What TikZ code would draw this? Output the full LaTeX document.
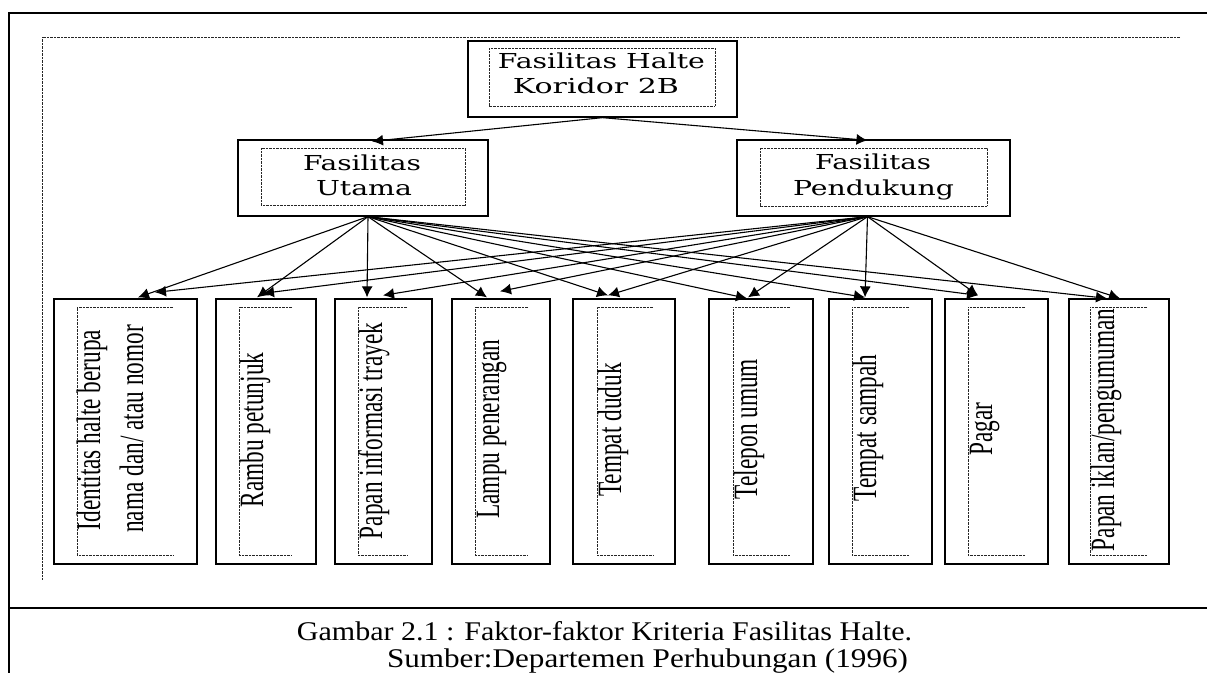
\documentclass[tikz,border=0pt]{standalone}
\usepackage{fontspec}
\setmainfont{Liberation Serif}
\newfontfamily\hdrfont{DejaVu Serif}
\usetikzlibrary{arrows.meta}
\newcommand{\hw}[2]{\resizebox{#1pt}{\height}{#2}}
\newcommand{\vtx}[1]{\scalebox{0.685}[1]{#1}}
\begin{document}
\begin{tikzpicture}[x=1pt,y=-1pt,
  frameline/.style={line width=2.5pt},
  dotline/.style={line width=0.9pt, dash pattern=on 0.7pt off 0.7pt, black!85},
  boxst/.style={draw, line width=1.3pt, inner sep=0pt},
  hdr/.style={font=\hdrfont\fontsize{20.6}{25}\selectfont, inner sep=0pt, anchor=base},
  vtext/.style={font=\fontsize{34}{40}\selectfont, inner sep=0pt, rotate=90, anchor=base},
  captext/.style={font=\fontsize{27}{31}\selectfont, inner sep=0pt, anchor=base},
  arr/.style={-{Latex[length=11pt,width=11pt]}, line width=1.1pt}]
\useasboundingbox (0,0) rectangle (1207,673);
% outer frame
\draw[frameline] (1207,13) -- (9,13) -- (9,673);
\draw[frameline] (9,608) -- (1207,608);
% dotted frame
\draw[dotline] (1180,37) -- (42,37) -- (42,580);
% header boxes
\node[boxst, minimum width=269pt, minimum height=76pt] (top) at (602.5,79) {};
\draw[dotline] (489,48) rectangle (715,106);
\node[hdr] (topa) at (601.5,68) {\hw{207}{Fasilitas Halte}};
\node[hdr] (topb) at (596,93) {\hw{166}{Koridor 2B}};
\node[boxst, minimum width=250pt, minimum height=76pt] (ut) at (363,178) {};
\draw[dotline] (261,148) rectangle (465,205);
\node[hdr] (uta) at (362,170) {\hw{118}{Fasilitas}};
\node[hdr] (utb) at (364,195) {\hw{96}{Utama}};
\node[boxst, minimum width=273pt, minimum height=76pt] (pd) at (873.5,178) {};
\draw[dotline] (760,148) rectangle (987,206);
\node[hdr] (pda) at (873,169) {\hw{116}{Fasilitas}};
\node[hdr] (pdb) at (873.5,195) {\hw{161}{Pendukung}};
% bottom boxes
\node[boxst, minimum width=143pt, minimum height=265pt] (b1) at (125.5,431.5) {};
\node[boxst, minimum width=100pt, minimum height=265pt] (b2) at (266,431.5) {};
\node[boxst, minimum width=97pt, minimum height=265pt] (b3) at (383.5,431.5) {};
\node[boxst, minimum width=98pt, minimum height=265pt] (b4) at (501,431.5) {};
\node[boxst, minimum width=102pt, minimum height=265pt] (b5) at (624,431.5) {};
\node[boxst, minimum width=104pt, minimum height=265pt] (b6) at (761,431.5) {};
\node[boxst, minimum width=103pt, minimum height=265pt] (b7) at (880.5,431.5) {};
\node[boxst, minimum width=103pt, minimum height=265pt] (b8) at (996.5,431.5) {};
\node[boxst, minimum width=100pt, minimum height=265pt] (b9) at (1119,431.5) {};
% inner dotted brackets
\draw[dotline] (173,307) -- (77,307) -- (77,555) -- (173,555);
\draw[dotline] (292,307) -- (239,307) -- (239,555) -- (292,555);
\draw[dotline] (407,307) -- (358,307) -- (358,555) -- (407,555);
\draw[dotline] (528,307) -- (475,307) -- (475,555) -- (528,555);
\draw[dotline] (653,307) -- (597,307) -- (597,555) -- (653,555);
\draw[dotline] (790,307) -- (733,307) -- (733,555) -- (790,555);
\draw[dotline] (909,307) -- (852,307) -- (852,555) -- (909,555);
\draw[dotline] (1025,307) -- (968,307) -- (968,555) -- (1025,555);
\draw[dotline] (1147,307) -- (1090,307) -- (1090,555) -- (1147,555);
% vertical texts
\node[vtext] (t1a) at (100,430) {\vtx{Identitas halte berupa}};
\node[vtext] (t1b) at (143,429) {\vtx{nama dan/ atau nomor}};
\node[vtext] (t2) at (263,430) {\vtx{Rambu petunjuk}};
\node[vtext] (t3) at (382,431) {\vtx{Papan informasi trayek}};
\node[vtext] (t4) at (499,429) {\vtx{Lampu penerangan}};
\node[vtext] (t5) at (621,430) {\vtx{Tempat duduk}};
\node[vtext] (t6) at (757,429) {\vtx{Telepon umum}};
\node[vtext] (t7) at (876,428) {\vtx{Tempat sampah}};
\node[vtext] (t8) at (992,429) {\vtx{Pagar}};
\node[vtext] (t9) at (1114,430) {\vtx{Papan iklan/pengumuman}};
% arrows top level
\draw[arr] (top.south) -- ([xshift=9pt,yshift=-2pt]ut.north);
\draw[arr] (top.south) -- ([xshift=-6pt,yshift=-1pt]pd.north);
% arrows from Utama
\coordinate (us) at ([xshift=5pt]ut.south);
\draw[arr] (us) -- ([xshift=12.5pt,yshift=1pt]b1.north);
\draw[arr] (us) -- ([xshift=-9pt,yshift=1pt]b2.north);
\draw[arr] (us) -- ([xshift=-16.5pt,yshift=1pt]b3.north);
\draw[arr] (us) -- ([xshift=-14pt,yshift=1pt]b4.north);
\draw[arr] (us) -- ([xshift=-16pt,yshift=3pt]b5.north);
\draw[arr] (us) -- ([xshift=-14pt,yshift=0pt]b6.north);
\draw[arr] (us) -- ([xshift=-15.5pt,yshift=1pt]b7.north);
\draw[arr] (us) -- ([xshift=-18.5pt,yshift=3pt]b8.north);
\draw[arr] (us) -- ([xshift=-12pt,yshift=0pt]b9.north);
% arrows from Pendukung
\coordinate (ps) at ([xshift=-6pt]pd.south);
\draw[arr] (ps) -- ([xshift=29.5pt,yshift=6pt]b1.north);
\draw[arr] (ps) -- ([xshift=-3pt,yshift=5pt]b2.north);
\draw[arr] (ps) -- ([xshift=-0.5pt,yshift=3pt]b3.north);
\draw[arr] (ps) -- ([xshift=-1pt,yshift=7pt]b4.north);
\draw[arr] (ps) -- ([xshift=-16pt,yshift=3pt]b5.north);
\draw[arr] (ps) -- ([xshift=-13pt,yshift=1pt]b6.north);
\draw[arr] (ps) -- ([xshift=-15.5pt,yshift=1pt]b7.north);
\draw[arr] (ps) -- ([xshift=-18.5pt,yshift=3pt]b8.north);
\draw[arr] (ps) -- ([xshift=1pt,yshift=0pt]b9.north);
% caption
\node[captext] (cap1) at (604.5,640) {\hw{615}{Gambar 2.1 : Faktor-faktor Kriteria Fasilitas Halte.}};
\node[captext] (cap2) at (647.5,667) {\hw{521}{Sumber:Departemen Perhubungan (1996)}};
\end{tikzpicture}
\end{document}
